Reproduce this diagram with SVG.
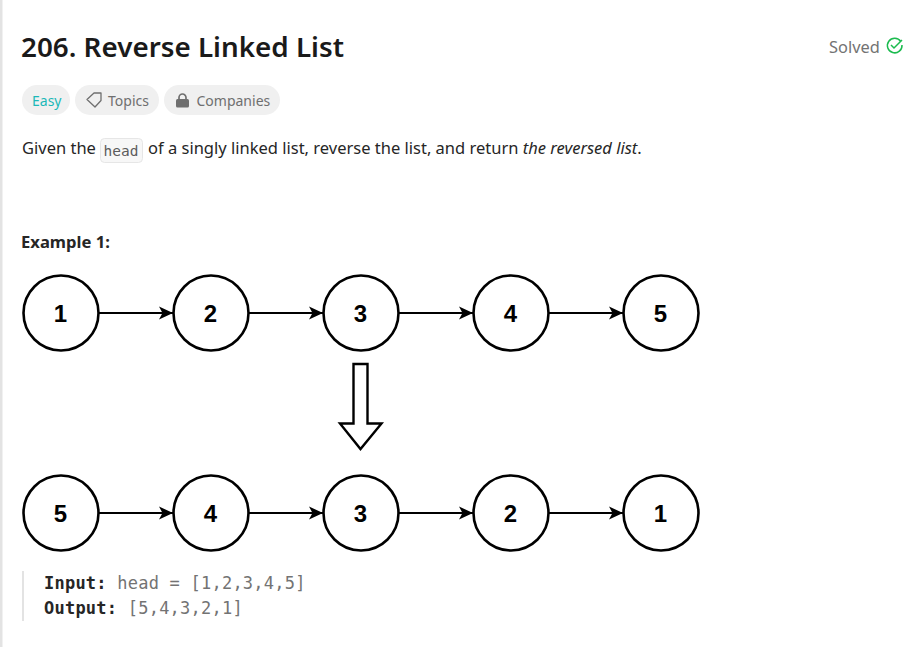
<svg xmlns="http://www.w3.org/2000/svg" width="917" height="647" viewBox="0 0 917 647">
<style>
.ui{font-family:"Noto Sans","Open Sans",sans-serif}
.mono{font-family:"DejaVu Sans Mono","Liberation Mono",monospace}
.pill{fill:#f0f0f0}
.chip{font-size:14px;fill:#6f6f6f}
.body{font-size:16.500px;fill:#262626}
.node circle{fill:#fff;stroke:#000;stroke-width:2.6}
.node text{font-family:"Liberation Sans",Arial,sans-serif;font-size:24px;font-weight:700;fill:#000;text-anchor:middle}
.conn{stroke:#000;stroke-width:2.200;fill:none;marker-end:url(#ah)}
</style>
<defs>
<marker id="ah" markerUnits="userSpaceOnUse" markerWidth="15" markerHeight="14" refX="14" refY="7" orient="auto">
<path d="M0 0.500L14 7L0 13.500L3.500 7Z" fill="#000"/>
</marker>
</defs>
<rect width="917" height="647" fill="#fff"/>
<rect x="0" y="0" width="2.500" height="647" fill="#e3e3e3"/>
<g id="header">
<text class="ui" x="21" y="57" font-size="27.800px" font-weight="600" fill="#1a1a1a">206. Reverse Linked List</text>
<text class="ui" x="829" y="53" font-size="16.400px" fill="#737373">Solved</text>
<path d="M900.800 41.500A7.300 7.300 0 1 0 902 45" fill="none" stroke="#1cbb4f" stroke-width="1.500"/>
<path d="M891 45L894 48L902 40" fill="none" stroke="#1cbb4f" stroke-width="1.500"/>
</g>
<g id="chips">
<rect class="pill" x="22" y="85" width="48" height="30" rx="15"/>
<text class="ui chip" x="32" y="106" style="fill:#1cb8b8">Easy</text>
<rect class="pill" x="75" y="85" width="84" height="30" rx="15"/>
<path d="M87 99.500L94 93L101 93L101 100.500L95 107Z" fill="none" stroke="#6f6f6f" stroke-width="1.300" stroke-linejoin="round"/>
<text class="ui chip" x="108" y="106">Topics</text>
<rect class="pill" x="164" y="85" width="116" height="30" rx="15"/>
<path d="M179 100V97.500a3.500 3.500 0 0 1 7 0V100" fill="none" stroke="#6f6f6f" stroke-width="1.700"/>
<rect x="176" y="99" width="13" height="8.500" rx="1.500" fill="#6f6f6f"/>
<text class="ui chip" x="196.500" y="106">Companies</text>
</g>
<g id="description">
<text class="ui body" x="22" y="154">Given the</text>
<rect x="100.500" y="138.500" width="42" height="24" rx="4" fill="#f7f7f7" stroke="#e6e6e6"/>
<text class="mono" x="103.500" y="156" font-size="14.500px" fill="#5c5c5c">head</text>
<text class="ui body" x="148" y="154">of a singly linked list, reverse the list, and return <tspan font-style="italic">the reversed list</tspan>.</text>
<text class="ui" x="21" y="248" font-size="16.600px" font-weight="700" fill="#262626">Example 1:</text>
</g>
<g id="connectors">
<line class="conn" x1="99" y1="313" x2="173" y2="313"/>
<line class="conn" x1="249" y1="313" x2="323" y2="313"/>
<line class="conn" x1="399" y1="313" x2="473" y2="313"/>
<line class="conn" x1="549" y1="313" x2="623" y2="313"/>
<line class="conn" x1="99" y1="513" x2="173" y2="513"/>
<line class="conn" x1="249" y1="513" x2="323" y2="513"/>
<line class="conn" x1="399" y1="513" x2="473" y2="513"/>
<line class="conn" x1="549" y1="513" x2="623" y2="513"/>
<path id="down-arrow" d="M353.500 364H367.500V423.500H381.500L360.500 449L340 423.500H353.500Z" fill="#fff" stroke="#000" stroke-width="2.400" stroke-linejoin="miter"/>
</g>
<g id="n1" class="node"><circle cx="61" cy="313" r="37.500"/><text x="60.500" y="322">1</text></g>
<g id="n2" class="node"><circle cx="211" cy="313" r="37.500"/><text x="210.500" y="322">2</text></g>
<g id="n3" class="node"><circle cx="361" cy="313" r="37.500"/><text x="360.500" y="322">3</text></g>
<g id="n4" class="node"><circle cx="511" cy="313" r="37.500"/><text x="510.500" y="322">4</text></g>
<g id="n5" class="node"><circle cx="661" cy="313" r="37.500"/><text x="660.500" y="322">5</text></g>
<g id="m5" class="node"><circle cx="61" cy="513" r="37.500"/><text x="60.500" y="522">5</text></g>
<g id="m4" class="node"><circle cx="211" cy="513" r="37.500"/><text x="210.500" y="522">4</text></g>
<g id="m3" class="node"><circle cx="361" cy="513" r="37.500"/><text x="360.500" y="522">3</text></g>
<g id="m2" class="node"><circle cx="511" cy="513" r="37.500"/><text x="510.500" y="522">2</text></g>
<g id="m1" class="node"><circle cx="661" cy="513" r="37.500"/><text x="660.500" y="522">1</text></g>
<g id="example">
<rect x="22" y="571" width="2" height="50" fill="#e3e3e3"/>
<text class="mono" x="44" y="589" font-size="17px" fill="#737373" letter-spacing="0.230"><tspan font-weight="700" fill="#262626">Input:</tspan> head = [1,2,3,4,5]</text>
<text class="mono" x="44" y="614" font-size="17px" fill="#737373" letter-spacing="0.230"><tspan font-weight="700" fill="#262626">Output:</tspan> [5,4,3,2,1]</text>
</g>
</svg>
